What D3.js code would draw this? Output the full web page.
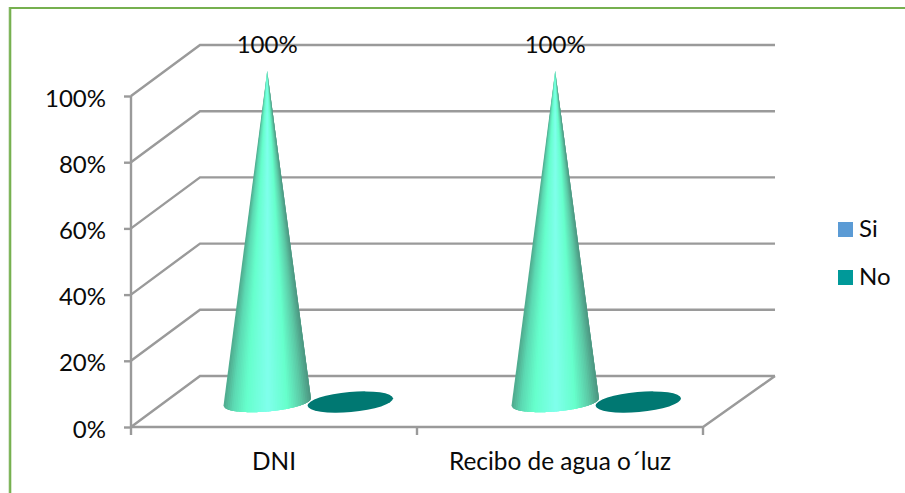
<!DOCTYPE html>
<html>
<head>
<meta charset="utf-8">
<script src="https://cdn.jsdelivr.net/npm/d3@7"></script>
<style>
html,body{margin:0;padding:0;background:#fff}
svg{display:block}
text{font-family:Lato,"Noto Sans",sans-serif;fill:#0a0a0a;font-size:24px}
</style>
</head>
<body>
<svg id="chart" width="905" height="493"></svg>
<script>
const categories = ["DNI", "Recibo de agua o´luz"];
const seriesNames = ["Si", "No"];
const siValues = [100, 100];
const noValues = [0, 0];
const yTicks = [0, 20, 40, 60, 80, 100];
const legendColors = ["#5b9bd5", "#009999"];

const svg = d3.select("#chart");
const front = {left: 131, right: 703, bottom: 427, top: 96};
const depth = {x: 69, y: 51};
const gridColor = "#9a9a9a";
const gridWidth = 2.4;
const floorFraction = 0.49;
const shiftY = depth.y * floorFraction;

// Front plane for ticks and labels, mid-floor plane for the marks
const x0 = d3.scaleBand().domain(categories).range([front.left, front.right]);
const xFloor = d3.scaleBand().domain(categories).range([165, 741]);
const x1 = d3.scaleBand().domain(seriesNames).range([0, xFloor.bandwidth()]).paddingInner(0).paddingOuter(0.723);
const y = d3.scaleLinear().domain([0, 100]).range([front.bottom, front.top]);

// Outer frame
svg.append("path").attr("d", "M8.8,493V7").attr("fill", "none").attr("stroke", "#cfe2c2").attr("stroke-width", 1);
svg.append("path").attr("d", "M10.2,493V8H905").attr("fill", "none").attr("stroke", "#76b04f").attr("stroke-width", 2.2);

// Walls: side diagonals plus back gridlines
const grid = svg.append("g").attr("fill", "none").attr("stroke", gridColor).attr("stroke-width", gridWidth);
yTicks.forEach(t => {
  grid.append("path").attr("d", d3.line()([
    [front.left, y(t)],
    [front.left + depth.x, y(t) - depth.y],
    [front.right + depth.x + 3, y(t) - depth.y]
  ]));
});
grid.append("path").attr("d", d3.line()([
  [front.left, front.bottom],
  [front.right, front.bottom],
  [front.right + depth.x + 3, front.bottom - depth.y]
]));

// Axes
const yAxis = d3.axisLeft(y).tickValues(yTicks).tickSize(7).tickFormat(d => d + "%");
const yG = svg.append("g").attr("transform", `translate(${front.left},0)`).call(yAxis);
yG.selectAll("path,line").attr("stroke", gridColor).attr("stroke-width", gridWidth);
yG.select(".domain").attr("d", `M0,${front.top}V${front.bottom}`);
yG.selectAll("text").attr("x", -25).attr("dy", "0.42em").style("font-size", "24px").attr("fill", "#0a0a0a");

const xTickPos = [...categories.map(c => x0(c)), front.right];
svg.append("g").selectAll("line").data(xTickPos).join("line")
  .attr("x1", d => d).attr("x2", d => d)
  .attr("y1", front.bottom).attr("y2", front.bottom + 8)
  .attr("stroke", gridColor).attr("stroke-width", gridWidth);
svg.append("g").selectAll("text").data(categories).join("text")
  .attr("x", d => x0(d) + x0.bandwidth() / 2)
  .attr("y", 470).attr("text-anchor", "middle").style("font-size", "24.4px")
  .text(d => d);

// Conical shading: colour depends on the position across the base
const coneShade = d3.scaleLinear()
  .domain([0, 0.1, 0.25, 0.5, 0.72, 0.88, 1])
  .range(["#4fa98d", "#5cd9b2", "#66ffcc", "#80ffec", "#66ffcc", "#5ccaa6", "#4c9480"]);

const tilt = -5;
const rad = tilt * Math.PI / 180;
const rx = x1.bandwidth() * 0.525, ry = 9.5;
const sliceCount = 48;
const slices = d3.range(0, sliceCount).map(i => i / sliceCount);

function basePoint(cx, by, u) {
  const px = rx * (2 * u - 1);
  const py = ry * Math.sqrt(Math.max(0, 1 - (2 * u - 1) ** 2));
  return [cx + px * Math.cos(rad) - py * Math.sin(rad), by + px * Math.sin(rad) + py * Math.cos(rad)];
}

categories.forEach((c, i) => {
  const g = svg.append("g");
  const cxSi = xFloor(c) + x1("Si") + x1.bandwidth() / 2;
  const cxNo = xFloor(c) + x1("No") + x1.bandwidth() / 2;
  const base = y(0) - shiftY;
  const tip = [cxSi, y(siValues[i]) - shiftY];

  // Zero-height "No" series: only the base ellipse shows
  g.append("ellipse")
    .attr("transform", `translate(${cxNo - 0.5},${y(noValues[i]) - shiftY}) rotate(${tilt})`)
    .attr("rx", rx - 1).attr("ry", ry + 0.5).attr("fill", "#007872");

  // Each slice runs on under the next one, so no seams show between them
  g.append("g").selectAll("path").data(slices).join("path")
    .attr("d", u => {
      const end = Math.min(1, u + 3 / sliceCount);
      const arc = d3.range(0, 7).map(k => basePoint(cxSi, base, u + (end - u) * k / 6));
      return d3.line()([tip, ...arc]) + "Z";
    })
    .attr("fill", u => coneShade(u + 0.5 / sliceCount));

  svg.append("text")
    .attr("x", cxSi).attr("y", 53)
    .attr("text-anchor", "middle")
    .text(siValues[i] + "%");
});

// Legend
const legend = svg.append("g");
seriesNames.forEach((s, i) => {
  const top = 222 + i * 48;
  legend.append("rect").attr("x", 838).attr("y", top).attr("width", 15).attr("height", 15).attr("fill", legendColors[i]);
  legend.append("text").attr("x", 859).attr("y", top + 15).text(s);
});
</script>
</body>
</html>
